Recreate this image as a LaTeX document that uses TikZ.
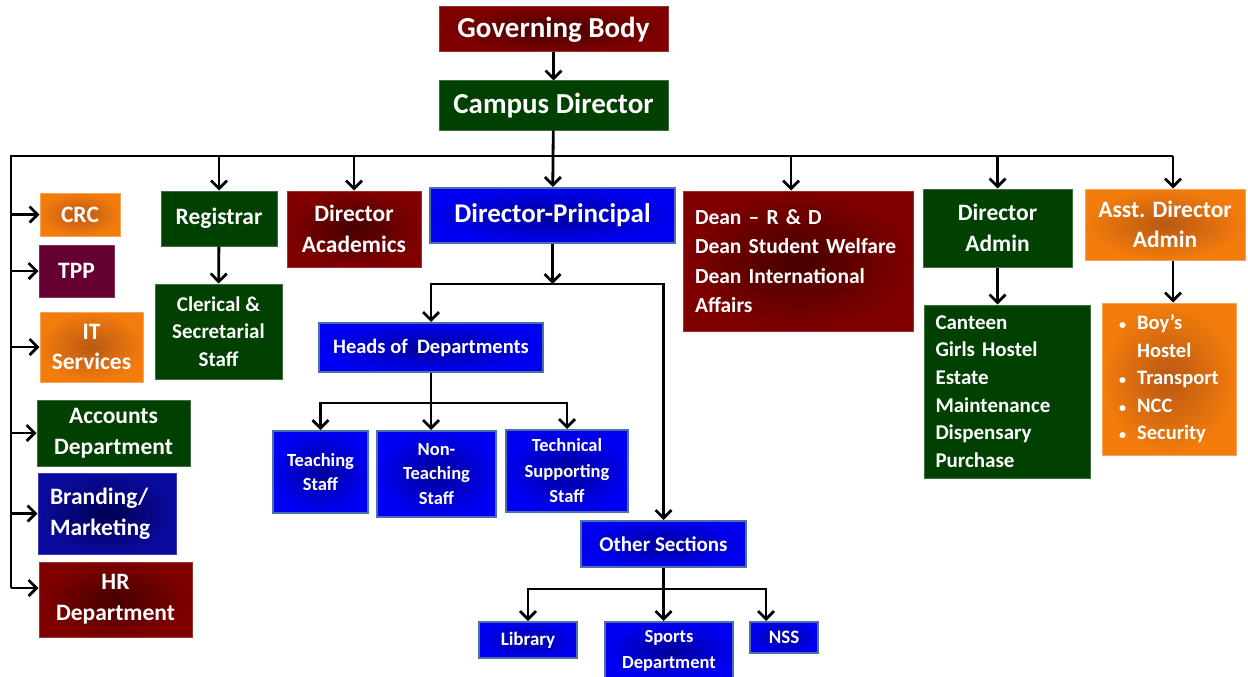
\documentclass[tikz,border=0pt]{standalone}
\usepackage{fontspec}
\setmainfont{Carlito}
\usetikzlibrary{arrows.meta}

\definecolor{bodyred}{HTML}{800000}
\definecolor{bodyredin}{HTML}{460000}
\definecolor{campgreen}{HTML}{004000}
\definecolor{deeporange}{HTML}{F37C0C}
\definecolor{deeporangein}{HTML}{B95814}
\definecolor{dpblue}{HTML}{0000F2}
\definecolor{dpbluein}{HTML}{00009A}
\definecolor{navyblue}{HTML}{0A0A9E}
\definecolor{navybluein}{HTML}{000052}
\definecolor{plum}{HTML}{640032}
\definecolor{rimblue}{HTML}{4A72A8}

\newcommand{\smallbullet}{{\fontsize{14}{14}\selectfont\textbullet}}

\begin{document}
\begin{tikzpicture}[x=1pt,y=-1pt,>={Straight Barb[length=8pt,width=16pt]},line width=2.8pt,
  box/.style={text=white,font=\bfseries,line width=1pt,inner sep=0pt,align=center},
  fs/.style 2 args={font=\bfseries\fontsize{#1}{#2}\selectfont},
  redbox/.style={box,draw=bodyred!80!white,shading=radial,inner color=bodyredin,outer color=bodyred},
  greenbox/.style={box,draw=campgreen!75!white,fill=campgreen},
  orangebox/.style={box,draw=deeporange!70!white,shading=radial,inner color=deeporangein,outer color=deeporange},
  bluebox/.style={box,draw=rimblue,line width=2pt,shading=radial,inner color=dpbluein,outer color=dpblue},
  navybox/.style={box,draw=navyblue!80!white,shading=radial,inner color=navybluein,outer color=navyblue},
  plumbox/.style={box,draw=plum!80!white,fill=plum}]
  \useasboundingbox (0,0) rectangle (1248,677);

  % top of the tree
  \node[redbox,fs={29}{35},minimum width=229pt,minimum height=45pt] (gov) at (553.5,29.5) {Governing Body};
  \node[greenbox,fs={29}{35},minimum width=229pt,minimum height=49pt] (campus) at (553.5,105.5) {Campus Director};

  % left column
  \node[orangebox,fs={23.5}{30},minimum width=80pt,minimum height=43pt] (crc) at (80,214.5) {CRC};
  \node[plumbox,fs={23.5}{30},minimum width=75pt,minimum height=52pt] (tpp) at (76.5,271) {TPP};
  \node[orangebox,fs={23.5}{30},minimum width=103pt,minimum height=70pt] (it) at (91.5,347) {IT\\Services};
  \node[greenbox,fs={23.5}{31},minimum width=153pt,minimum height=66pt] (acc) at (113.5,433) {Accounts\\Department};
  \node[navybox,fs={23.5}{31},minimum width=138pt,minimum height=81pt,text width=114pt,inner xsep=12pt,align=left] (brand) at (107,513.5) {Branding/\\Marketing};
  \node[redbox,fs={23.5}{31},minimum width=153pt,minimum height=75pt] (hr) at (115.5,599.5) {HR\\Department};

  % first row
  \node[greenbox,fs={23.5}{30},minimum width=116pt,minimum height=55pt] (reg) at (219,218.5) {Registrar};
  \node[greenbox,fs={21}{27.5},minimum width=127pt,minimum height=95pt] (cler) at (218.5,331.5) {Clerical \&\\Secretarial\\Staff};
  \node[redbox,fs={23.5}{31},minimum width=134pt,minimum height=76pt] (acad) at (354,229) {Director\\Academics};
  \node[bluebox,fs={27}{33},minimum width=245pt,minimum height=55pt] (dp) at (552.5,215.5) {Director-Principal};
  \node[redbox,fs={21.5}{29.5},minimum width=230pt,minimum height=140pt,text width=206pt,inner xsep=12pt,align=left] (dean) at (798,261) {Dean – R \& D\\Dean Student Welfare\\Dean International\\Affairs};
  \node[greenbox,fs={23.5}{31},minimum width=149pt,minimum height=78pt] (dadmin) at (997.5,228) {Director\\Admin};
  \node[greenbox,fs={21}{27.7},minimum width=166pt,minimum height=173pt,text width=143pt,inner xsep=11.5pt,align=left] (dalist) at (1007,391.5) {Canteen\\Girls Hostel\\Estate\\Maintenance\\Dispensary\\Purchase};
  \node[orangebox,fs={23.5}{30},minimum width=160pt,minimum height=71pt] (asst) at (1165,224.5) {Asst. Director\\Admin};
  \node[orangebox,fs={20.5}{27.5},minimum width=134pt,minimum height=152pt] (asstlist) at (1169,379)
    {\begin{tabular}{@{}l@{\hspace{11pt}}l@{}}\smallbullet & Boy’s\\ & Hostel\\ \smallbullet & Transport\\ \smallbullet & NCC\\ \smallbullet & Security\end{tabular}};

  % under the director-principal
  \node[bluebox,fs={20.5}{26},minimum width=224pt,minimum height=49pt] (hod) at (431,347.5) {Heads of~ Departments};
  \node[bluebox,fs={18.5}{24.5},minimum width=95pt,minimum height=82pt] (teach) at (320.5,472) {Teaching\\Staff};
  \node[bluebox,fs={18.5}{24.5},minimum width=119pt,minimum height=86pt] (nonteach) at (436.5,474) {Non-\\Teaching\\Staff};
  \node[bluebox,fs={18.5}{25.5},minimum width=122pt,minimum height=82pt] (tech) at (567,471) {Technical\\Supporting\\Staff};
  \node[bluebox,fs={21}{27},minimum width=165pt,minimum height=46pt] (other) at (663.5,544) {Other Sections};
  \node[bluebox,fs={19}{25},minimum width=98pt,minimum height=36pt] (lib) at (528,640) {Library};
  \node[bluebox,fs={18.5}{26},minimum width=128pt,minimum height=58pt] (sports) at (669,651) {Sports\\Department};
  \node[bluebox,fs={19}{25},minimum width=68pt,minimum height=31pt] (nss) at (784,637.5) {NSS};

  \coordinate (busL) at (11,156);
  \coordinate (busR) at (1173,156);
  \coordinate (hrin) at ([yshift=11.5pt]hr.west);
  \coordinate (deanin) at ([xshift=-7pt]dean.north);
  \coordinate (nssin) at ([xshift=-18pt]nss.north);
  \coordinate (dpbus) at (552.5,284);
  \coordinate (hodbus) at (431,403);
  \coordinate (otherbus) at (663.5,589);

  \draw[->] (gov) -- (campus);
  \draw[->] (campus) -- (dp);
  \draw (busL |- hrin) -- (busL) -- (busR);
  \draw[->] (busR) -- (busR |- asst.north);
  \draw[->] (reg.north |- busL) -- (reg);
  \draw[->] (acad.north |- busL) -- (acad);
  \draw[->] (deanin |- busL) -- (deanin);
  \draw[->] (dadmin.north |- busL) -- (dadmin);

  \draw[->] (busL |- crc.west) -- (crc);
  \draw[->] (busL |- tpp.west) -- (tpp);
  \draw[->] (busL |- it.west) -- (it);
  \draw[->] (busL |- acc.west) -- (acc);
  \draw[->] (busL |- brand.west) -- (brand);
  \draw[->] (busL |- hrin) -- (hrin);

  \draw[->] (reg) -- (cler);
  \draw[->] (dadmin) -- (dadmin |- dalist.north);
  \draw[->] (busR |- asst.south) -- (busR |- asstlist.north);

  \draw[->] (dp) -- (dpbus);
  \draw[->] (dpbus) -| (hod);
  \draw[->] (dpbus) -| (other);
  \draw[->] (hod) -- (hod |- nonteach.north);
  \draw[->] (hodbus) -| (teach);
  \draw[->] (hodbus) -| (tech);
  \draw[->] (other) -- (other |- sports.north);
  \draw[->] (otherbus) -| (lib);
  \draw[->] (otherbus) -| (nssin);
\end{tikzpicture}
\end{document}
